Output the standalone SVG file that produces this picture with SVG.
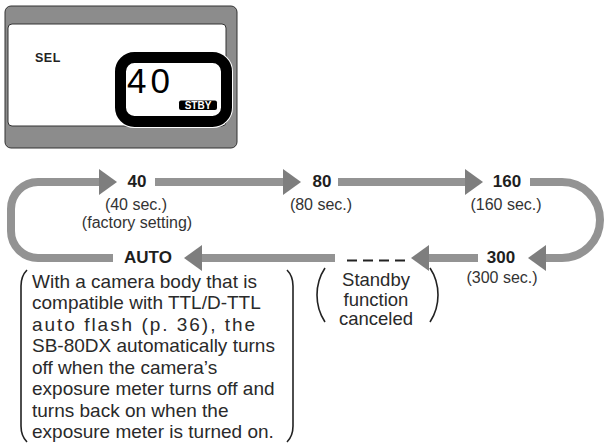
<svg xmlns="http://www.w3.org/2000/svg" width="606" height="444" viewBox="0 0 606 444">
<style>
.band{fill:none;stroke:#939393;stroke-width:8}
.num{font-family:"Liberation Sans",Arial,sans-serif;font-weight:bold;font-size:17px;fill:#1e1e1e;text-anchor:middle}
.lbl{font-family:"Liberation Sans",Arial,sans-serif;font-size:16px;fill:#333;text-anchor:middle}
.body{font-family:"Liberation Sans",Arial,sans-serif;font-size:19px;fill:#2a2a2a}
.brk{fill:none;stroke:#222;stroke-width:1.6}
</style>
<defs>
<marker id="ah" viewBox="0 0 18 26" markerWidth="18" markerHeight="26" markerUnits="userSpaceOnUse" refX="0" refY="13" orient="auto">
<path d="M0 0 L18 13 L0 26 Z" fill="#7e7e7e"/>
</marker>
</defs>
<rect width="606" height="444" fill="#fff"/>
<g id="lcd">
<rect x="5" y="6" width="232" height="142" rx="6" fill="#8c8c8c" stroke="#333" stroke-width="1"/>
<rect x="8" y="24" width="218" height="102" rx="4" fill="#fff" stroke="#333" stroke-width="1"/>
<rect x="120.5" y="57.5" width="106" height="64" rx="14" fill="none" stroke="#fff" stroke-width="13"/>
<rect x="120.5" y="57.5" width="106" height="64" rx="14" fill="#fff" stroke="#000" stroke-width="11"/>
<text x="35" y="62" font-family="Liberation Sans,Arial,sans-serif" font-weight="bold" font-size="12.5" fill="#222" letter-spacing="0.5">SEL</text>
<text x="127" y="93" font-family="Liberation Sans,Arial,sans-serif" font-size="35" fill="#000" letter-spacing="4">40</text>
<rect x="179" y="100.5" width="38" height="9.5" rx="2" fill="#000"/>
<text x="198" y="109" font-family="Liberation Sans,Arial,sans-serif" font-weight="bold" font-size="10" fill="#fff" text-anchor="middle">STBY</text>
</g>
<g id="connectors">
<path class="band" d="M155 182 H283" marker-end="url(#ah)"/>
<path class="band" d="M338 182 H465" marker-end="url(#ah)"/>
<path class="band" d="M530 182 H562 A38 38 0 0 1 600 220 A38 38 0 0 1 562 258 H546" marker-end="url(#ah)"/>
<path class="band" d="M478 258 H429" marker-end="url(#ah)"/>
<path class="band" d="M335 258 H202" marker-end="url(#ah)"/>
<path class="band" d="M113 258 H38 A27 27 0 0 1 11 231 V209 A27 27 0 0 1 38 182 H99" marker-end="url(#ah)"/>
</g>
<g id="n40">
<text class="num" x="137" y="187">40</text>
<text class="lbl" x="136" y="210">(40 sec.)</text>
<text class="lbl" x="137" y="228">(factory setting)</text>
</g>
<g id="n80">
<text class="num" x="322" y="187">80</text>
<text class="lbl" x="321" y="210">(80 sec.)</text>
</g>
<g id="n160">
<text class="num" x="507" y="187">160</text>
<text class="lbl" x="506" y="210">(160 sec.)</text>
</g>
<g id="n300">
<text class="num" x="501" y="263">300</text>
<text class="lbl" x="502" y="283">(300 sec.)</text>
</g>
<g id="ndash">
<path d="M347 260.5 H405" stroke="#222" stroke-width="2" stroke-dasharray="10 6"/>
<path class="brk" d="M325 268 Q317 280 317 295 Q317 310 325 322"/>
<path class="brk" d="M430 268 Q438 280 438 295 Q438 310 430 322"/>
<text class="lbl" style="font-size:18.5px;fill:#2a2a2a" x="376" y="286">Standby</text>
<text class="lbl" style="font-size:18.5px;fill:#2a2a2a" x="376" y="306">function</text>
<text class="lbl" style="font-size:18.5px;fill:#2a2a2a" x="376" y="325">canceled</text>
</g>
<g id="nauto">
<text class="num" x="148" y="263">AUTO</text>
<path class="brk" d="M27 270 Q21 276 21 286 V426 Q21 436 27 442"/>
<path class="brk" d="M287 270 Q293 276 293 286 V426 Q293 436 287 442"/>
<text class="body" x="32" y="288">With a camera body that is</text>
<text class="body" x="32" y="309">compatible with TTL/D-TTL</text>
<text class="body" x="32" y="331" textLength="223" lengthAdjust="spacing">auto flash (p. 36), the</text>
<text class="body" x="32" y="352">SB-80DX automatically turns</text>
<text class="body" x="32" y="374">off when the camera’s</text>
<text class="body" x="32" y="395">exposure meter turns off and</text>
<text class="body" x="32" y="417">turns back on when the</text>
<text class="body" x="32" y="438">exposure meter is turned on.</text>
</g>
</svg>
